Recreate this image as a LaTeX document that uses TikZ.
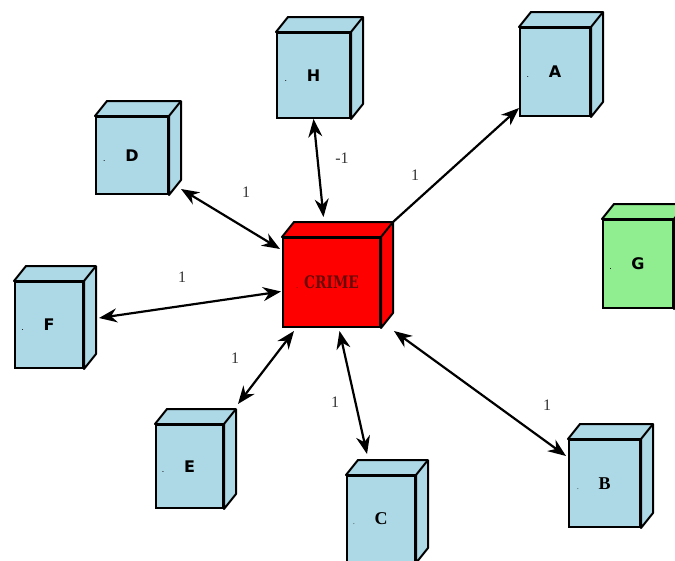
\documentclass[tikz,border=0pt]{standalone}
\usepackage{fontspec}
\setmainfont{Liberation Serif}
\setsansfont{DejaVu Sans}
\newfontfamily\crimefont{DejaVu Serif}
\usetikzlibrary{arrows.meta,positioning,calc}
\definecolor{boxblue}{HTML}{ADD8E6}
\definecolor{boxgreen}{HTML}{90EE90}
\definecolor{crimered}{HTML}{FF0000}
\definecolor{crimetext}{HTML}{6A0A0A}
\definecolor{lblgray}{HTML}{333333}
\tikzset{
  entity/.style={draw=black,line width=2pt,fill=boxblue,minimum width=70pt,minimum height=86pt,inner sep=0pt,font=\sffamily\bfseries\fontsize{16}{16}\selectfont},
  serifent/.style={font=\rmfamily\bfseries\fontsize{18}{18}\selectfont},
  face/.style={draw=black,line width=2pt,line join=round},
  link/.style={arrows={Stealth[length=18pt,width=14pt]-Stealth[length=18pt,width=14pt]},line width=2.2pt},
  onelink/.style={arrows={-Stealth[length=18pt,width=14pt]},line width=2.2pt},
  weight/.style={font=\fontsize{16}{16}\selectfont,text=lblgray}
}
% top and right faces of a box
\newcommand{\sidefaces}[2]{%
  \filldraw[face,fill=#2] (#1.north west) -- ++(12,15) -- ([shift={(12,15)}]#1.north east)
    -- ([shift={(12,15)}]#1.south east) -- (#1.south east) -- (#1.north east) -- cycle;
  \draw[face] (#1.north east) -- ++(12,15);
}
\newcommand{\dotlbl}[1]{\llap{\tiny.\hspace{20pt}}#1}

\begin{document}
\begin{tikzpicture}[x=1pt,y=1pt]
  \useasboundingbox (0,0) rectangle (675,-560);
  \node[entity,minimum width=73pt,minimum height=85pt] (H) at (313.5,-75.5) {\dotlbl{H}};
  \node[entity,minimum height=88pt] (A) at (555,-72) {\dotlbl{A}};
  \node[entity,minimum width=72pt,minimum height=77pt] (D) at (132,-155.5) {\dotlbl{D}};
  \node[entity,fill=boxgreen,minimum height=88pt] (G) at (638,-264) {\dotlbl{G}};
  \node[entity,fill=crimered,minimum width=97pt,minimum height=89pt,font=\crimefont\bfseries\fontsize{15}{15}\selectfont,text=crimetext] (crime) at (331.5,-282.5) {\llap{\tiny.\hspace{6pt}}\scalebox{0.92}[1.15]{CRIME}};
  \node[entity,minimum width=68pt] (F) at (49,-325) {\dotlbl{F}};
  \node[entity,minimum width=67pt,minimum height=83pt] (E) at (189.5,-466.5) {\dotlbl{E}};
  \node[entity,serifent,minimum width=68pt] (C) at (381,-519) {\dotlbl{C}};
  \node[entity,serifent,minimum width=71pt,minimum height=87pt] (B) at (604.5,-483.5) {\dotlbl{B}};
  \foreach \n/\c in {H/boxblue,A/boxblue,D/boxblue,G/boxgreen,crime/crimered,F/boxblue,E/boxblue,C/boxblue,B/boxblue}
    {\sidefaces{\n}{\c}}

  \draw[link] (H.south) -- ([shift={(-8,20)}]crime.north);
  \draw[link] ([shift={(12,6)}]D.south east) -- ([shift={(-2,-12)}]crime.north west);
  \draw[link] ([shift={(15,7)}]F.east) -- ([shift={(-1,-9)}]crime.west);
  \draw[link] ([shift={(14,20)}]E.north east) -- ([shift={(12,-3)}]crime.south west);
  \draw[link] ([shift={(8,-3)}]crime.south) -- ([shift={(-14,21)}]C.north);
  \draw[link] ([shift={(13,-3)}]crime.south east) -- ([shift={(-2,-17)}]B.north west);
  \draw[onelink] ([shift={(12,15)}]crime.north east) -- ([shift={(0,9)}]A.south west);

  \node[weight] (wH) at (342,-158) {-1};
  \node[weight] (wD) at (246,-192) {1};
  \node[weight] (wA) at (415,-175) {1};
  \node[weight] (wF) at (182,-277) {1};
  \node[weight] (wE) at (235,-358) {1};
  \node[weight] (wC) at (335,-402) {1};
  \node[weight] (wB) at (547,-405) {1};
\end{tikzpicture}
\end{document}
